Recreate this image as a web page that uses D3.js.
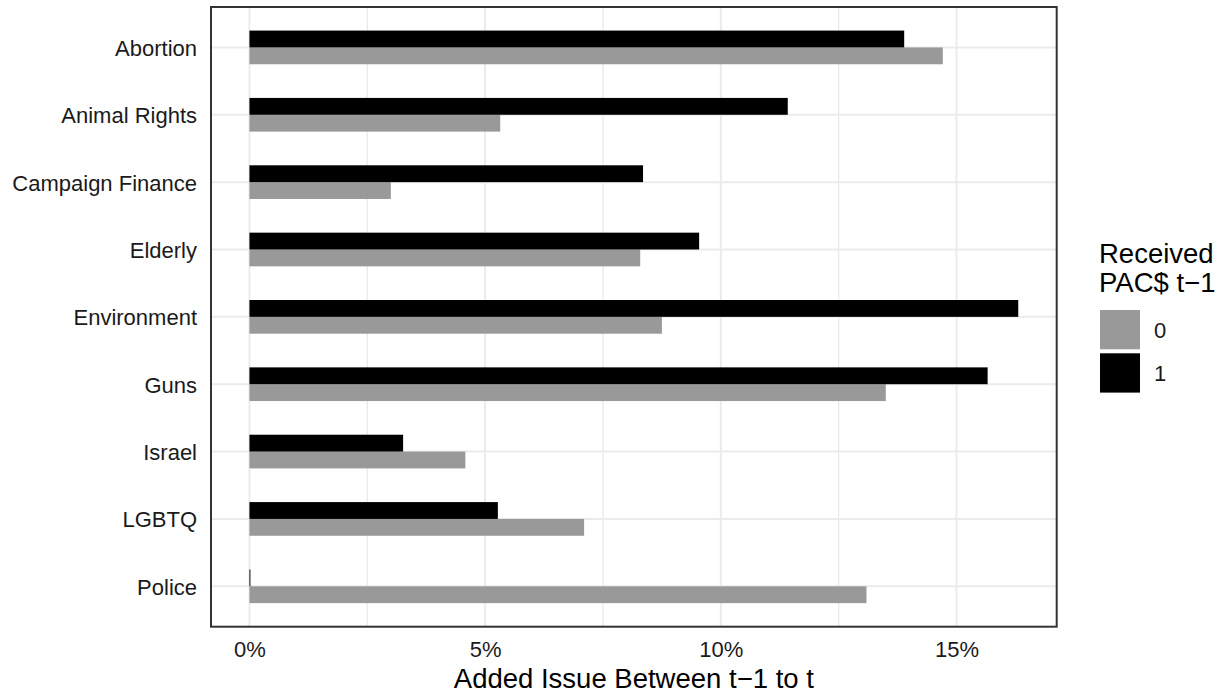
<!DOCTYPE html>
<html>
<head>
<meta charset="utf-8">
<script src="https://cdn.jsdelivr.net/npm/d3@7"></script>
<style>
  html, body { margin: 0; padding: 0; background: #fff; }
  svg { display: block; font-family: "Liberation Sans", Arial, sans-serif; }
</style>
</head>
<body>
<svg id="chart" width="1221" height="693"></svg>
<script>
// ---- data ----
const categories = ["Abortion", "Animal Rights", "Campaign Finance", "Elderly", "Environment", "Guns", "Israel", "LGBTQ", "Police"];
const series = ["0", "1"];
const values0 = [14.71, 5.32, 3.00, 8.29, 8.75, 13.50, 4.58, 7.10, 13.09];
const values1 = [13.89, 11.42, 8.35, 9.54, 16.31, 15.66, 3.26, 5.27, 0.02];
const majorTicks = [0, 5, 10, 15];
const minorTicks = [2.5, 7.5, 12.5];
const xTitle = "Added Issue Between t\u22121 to t";
const legendTitle = ["Received", "PAC$ t\u22121"];
const seriesColors = ["#999999", "#000000"];

// ---- layout ----
const panel = { left: 211, right: 1056.7, top: 7, bottom: 626.7 };
const svg = d3.select("#chart");

const maxVal = d3.max(values0.concat(values1));
const x = d3.scaleLinear()
  .domain([-0.05 * maxVal, 1.05 * maxVal])
  .range([panel.left, panel.right]);

const y = d3.scalePoint()
  .domain(categories)
  .range([panel.top, panel.bottom])
  .padding(0.6);

const step = y.step();
const groupH = step * 0.5;
const sub = d3.scaleBand().domain(["1", "0"]).range([-groupH / 2, groupH / 2]);

// background
svg.append("rect").attr("x", panel.left).attr("y", panel.top)
  .attr("width", panel.right - panel.left).attr("height", panel.bottom - panel.top)
  .attr("fill", "#fff");

// grid
const grid = svg.append("g");
grid.selectAll("line.minor").data(minorTicks).join("line")
  .attr("x1", d => x(d)).attr("x2", d => x(d))
  .attr("y1", panel.top).attr("y2", panel.bottom)
  .attr("stroke", "#EBEBEB").attr("stroke-width", 1.4);
grid.selectAll("line.majorx").data(majorTicks).join("line")
  .attr("x1", d => x(d)).attr("x2", d => x(d))
  .attr("y1", panel.top).attr("y2", panel.bottom)
  .attr("stroke", "#EBEBEB").attr("stroke-width", 2);
grid.selectAll("line.majory").data(categories).join("line")
  .attr("x1", panel.left).attr("x2", panel.right)
  .attr("y1", d => y(d)).attr("y2", d => y(d))
  .attr("stroke", "#EBEBEB").attr("stroke-width", 2);

// bars
const rows = [];
categories.forEach((c, i) => {
  rows.push({ cat: c, s: "0", v: values0[i] });
  rows.push({ cat: c, s: "1", v: values1[i] });
});
svg.append("g").selectAll("rect").data(rows).join("rect")
  .attr("x", x(0))
  .attr("width", d => x(d.v) - x(0))
  .attr("y", d => y(d.cat) + sub(d.s))
  .attr("height", sub.bandwidth())
  .attr("fill", d => seriesColors[series.indexOf(d.s)]);

// border
svg.append("rect").attr("x", panel.left).attr("y", panel.top)
  .attr("width", panel.right - panel.left).attr("height", panel.bottom - panel.top)
  .attr("fill", "none").attr("stroke", "#333333").attr("stroke-width", 2);

// x axis
const xAxis = d3.axisBottom(x).tickValues(majorTicks).tickSize(0).tickPadding(0)
  .tickFormat(d => d + "%");
const gx = svg.append("g").attr("transform", `translate(0,${panel.bottom})`).call(xAxis);
gx.select(".domain").remove();
gx.selectAll("text").attr("font-size", 22).attr("fill", "#1a1a1a")
  .attr("font-family", "Liberation Sans, Arial, sans-serif")
  .attr("dy", null).attr("y", 30.5);

// y axis
const yAxis = d3.axisLeft(y).tickSize(0).tickPadding(0);
const gy = svg.append("g").attr("transform", `translate(${panel.left - 14},0)`).call(yAxis);
gy.select(".domain").remove();
gy.selectAll("text").attr("font-size", 22).attr("fill", "#1a1a1a")
  .attr("font-family", "Liberation Sans, Arial, sans-serif")
  .attr("x", 0).attr("dy", "0.36em");

// x title
svg.append("text").attr("x", (panel.left + panel.right) / 2).attr("y", 687.5)
  .attr("text-anchor", "middle").attr("font-size", 27.5).attr("fill", "#000")
  .text(xTitle);

// legend
const lg = svg.append("g");
lg.selectAll("text.title").data(legendTitle).join("text")
  .attr("x", 1099).attr("y", (d, i) => 263 + i * 28.5)
  .attr("font-size", 27.5).attr("fill", "#000").text(d => d);
const keyH = 43.3;
const keyTop = 308;
lg.selectAll("rect.key").data(series).join("rect")
  .attr("x", 1100).attr("y", (d, i) => keyTop + i * keyH + 2)
  .attr("width", 40).attr("height", keyH - 4)
  .attr("fill", (d, i) => seriesColors[i]);
lg.selectAll("text.lab").data(series).join("text")
  .attr("x", 1154).attr("y", (d, i) => keyTop + i * keyH + keyH / 2)
  .attr("dy", "0.36em").attr("font-size", 22).attr("fill", "#1a1a1a").text(d => d);
</script>
</body>
</html>
